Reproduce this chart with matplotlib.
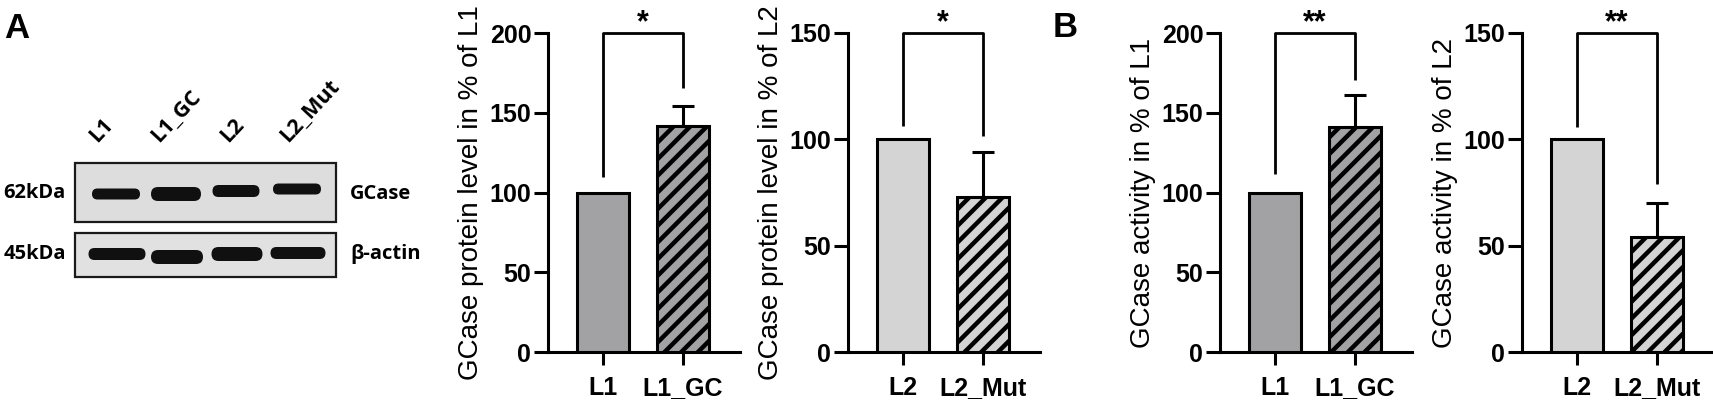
import numpy as np
import matplotlib
matplotlib.use('Agg')
import matplotlib.pyplot as plt
from matplotlib.patches import Rectangle, FancyBboxPatch

plt.rcParams['font.family'] = ['Liberation Sans', 'DejaVu Sans']
plt.rcParams['hatch.linewidth'] = 3.2

# --- bar chart data ---
prot_l1_groups = ['L1', 'L1_GC']
prot_l1_vals = [100, 142]
prot_l1_err = [0, 12]
prot_l1_bracket = [110, 200, 165.5]   # left leg end, top, right leg end
prot_l1_star = '*'

prot_l2_groups = ['L2', 'L2_Mut']
prot_l2_vals = [100, 73]
prot_l2_err = [0, 21]
prot_l2_bracket = [106.5, 150, 101.5]
prot_l2_star = '*'

act_l1_groups = ['L1', 'L1_GC']
act_l1_vals = [100, 141]
act_l1_err = [0, 20]
act_l1_bracket = [111.5, 200, 170.5]
act_l1_star = '**'

act_l2_groups = ['L2', 'L2_Mut']
act_l2_vals = [100, 54]
act_l2_err = [0, 16]
act_l2_bracket = [106, 150, 79]
act_l2_star = '**'

# --- western blot data ---
lanes = ['L1', 'L1_GC', 'L2', 'L2_Mut']
gcase_band_w = [48, 50, 47, 48]
gcase_band_h = [11, 14, 12, 11]
gcase_band_dy = [1, 1, -2, -4]
actin_band_w = [57, 52, 51, 55]
actin_band_h = [12, 14, 14, 12]
actin_band_dy = [0, 3, 0, -1]

dark_gray = '#A2A2A4'
light_gray = '#D4D4D4'

fig = plt.figure(figsize=(17.13, 4.01), dpi=100)
W, H = 1713, 401

# background axes in pixel coordinates for the blot and panel letters
bg = fig.add_axes([0, 0, 1, 1])
bg.set_xlim(0, W)
bg.set_ylim(H, 0)
bg.axis('off')

bg.text(4, 38, 'A', fontsize=25, fontweight='bold', ha='left', va='baseline')
bg.text(1053, 37, 'B', fontsize=25, fontweight='bold', ha='left', va='baseline')

blot_font = ['Open Sans', 'DejaVu Sans']
lane_x = [116, 176, 236, 297]
lane_label_x = [97, 159, 228, 288]

for i, name in enumerate(lanes):
    bg.text(lane_label_x[i], 143, name, rotation=47, rotation_mode='anchor',
            ha='left', va='baseline', fontsize=15.5, fontweight='bold',
            family=blot_font)

bg.add_patch(Rectangle((75, 163), 261, 59, facecolor='#DDDDDD',
                       edgecolor='#1a1a1a', lw=1.6))
bg.add_patch(Rectangle((75, 233), 261, 44, facecolor='#E1E1E1',
                       edgecolor='#1a1a1a', lw=1.6))

for i in range(len(lanes)):
    w, h = gcase_band_w[i], gcase_band_h[i]
    cy = 193 + gcase_band_dy[i]
    bg.add_patch(FancyBboxPatch((lane_x[i] - w / 2, cy - h / 2), w, h,
                                boxstyle='round,pad=0,rounding_size=%f' % (h / 2),
                                facecolor='#101010', edgecolor='none'))
    w, h = actin_band_w[i], actin_band_h[i]
    cy = 254 + actin_band_dy[i]
    bg.add_patch(FancyBboxPatch((lane_x[i] + 1 - w / 2, cy - h / 2), w, h,
                                boxstyle='round,pad=0,rounding_size=%f' % (h / 2),
                                facecolor='#101010', edgecolor='none'))

bg.text(66, 193, '62kDa', ha='right', va='center', fontsize=14.5,
        fontweight='bold', family=blot_font)
bg.text(66, 254, '45kDa', ha='right', va='center', fontsize=14.5,
        fontweight='bold', family=blot_font)
bg.text(350, 194, 'GCase', ha='left', va='center', fontsize=14.5,
        fontweight='bold', family=blot_font)
bg.text(350, 254, 'β-actin', ha='left', va='center', fontsize=14.5,
        fontweight='bold', family=blot_font)


def bar_panel(left_px, groups, vals, err, bracket, star, ymax, ylabel):
    ax = fig.add_axes([left_px / W, (H - 352) / H, 192 / W, 319 / H])
    x = np.arange(len(groups))
    fill = dark_gray if '1' in groups[0] else light_gray
    ax.bar(x[0], vals[0], width=0.65, color=fill,
           edgecolor='black', linewidth=2.2, zorder=3)
    ax.bar(x[1], vals[1], width=0.65, color=fill,
           edgecolor='black', linewidth=2.2, hatch='//', zorder=3)
    ax.errorbar(x[1], vals[1], yerr=[[0], [err[1]]], fmt='none', ecolor='black',
                elinewidth=2.2, capsize=8, capthick=2.2, zorder=2)
    ax.plot([x[0], x[0], x[1], x[1]], [bracket[0], bracket[1], bracket[1], bracket[2]],
            color='black', lw=2, clip_on=False, solid_capstyle='butt')
    ax.text((x[0] + x[1]) / 2, bracket[1] + ymax * 0.005, star, ha='center',
            va='baseline', fontsize=22, fontweight='bold')
    ax.set_xlim(-0.6875, 1.7125)
    ax.set_ylim(0, ymax)
    ax.set_yticks(np.arange(0, ymax + 1, 50))
    ax.set_xticks(x)
    ax.set_xticklabels(groups)
    for s in ['top', 'right']:
        ax.spines[s].set_visible(False)
    for s in ['left', 'bottom']:
        ax.spines[s].set_linewidth(2.2)
    ax.tick_params(axis='y', length=10, width=2.2, pad=2, labelsize=18)
    ax.tick_params(axis='x', length=9, width=2.2, pad=8, labelsize=18)
    for lab in ax.get_xticklabels() + ax.get_yticklabels():
        lab.set_fontweight('bold')
    ax.set_ylabel(ylabel, fontsize=20)
    ax.yaxis.set_label_coords(-0.335, 0.5)
    return ax


bar_panel(548, prot_l1_groups, prot_l1_vals, prot_l1_err, prot_l1_bracket,
          prot_l1_star, 200, 'GCase protein level in % of L1')
bar_panel(848, prot_l2_groups, prot_l2_vals, prot_l2_err, prot_l2_bracket,
          prot_l2_star, 150, 'GCase protein level in % of L2')
bar_panel(1220, act_l1_groups, act_l1_vals, act_l1_err, act_l1_bracket,
          act_l1_star, 200, 'GCase activity in % of L1')
bar_panel(1522, act_l2_groups, act_l2_vals, act_l2_err, act_l2_bracket,
          act_l2_star, 150, 'GCase activity in % of L2')

fig.savefig('out.png', dpi=100)
